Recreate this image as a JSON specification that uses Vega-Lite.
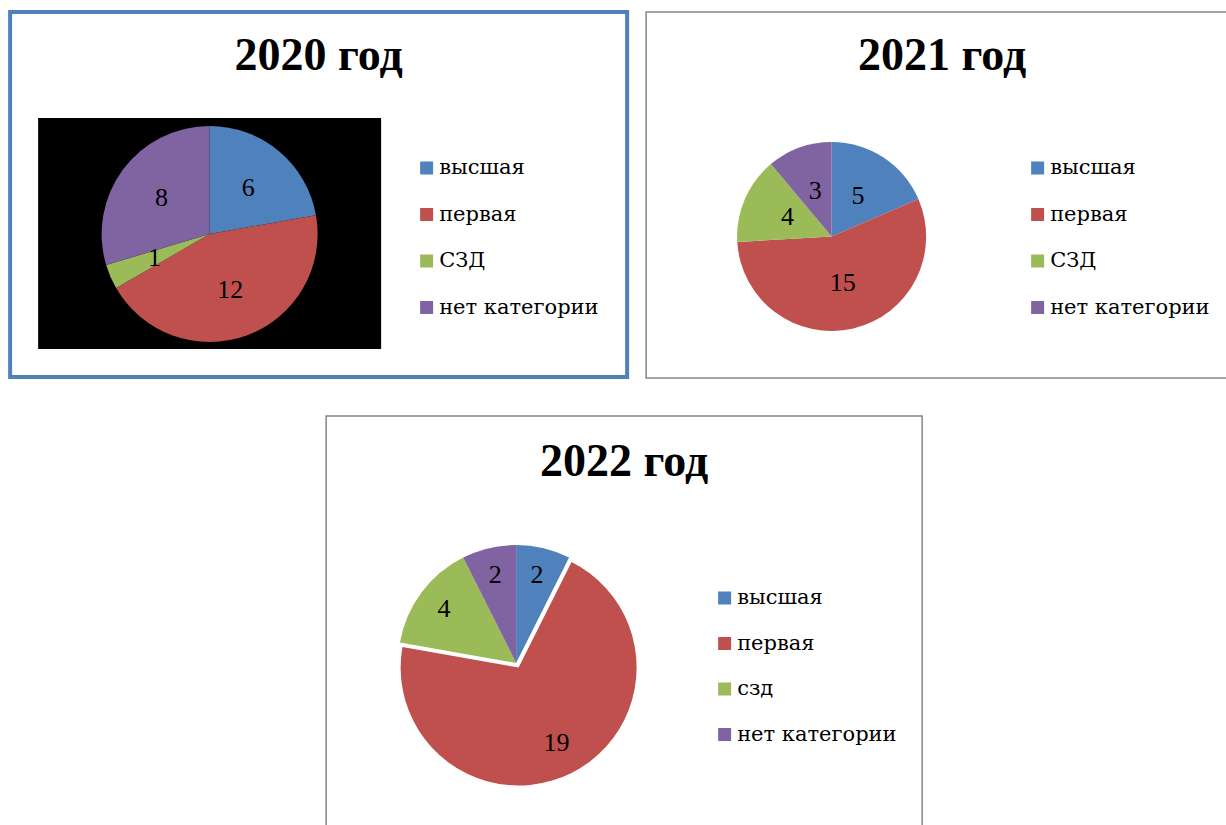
{
  "$schema": "https://vega.github.io/schema/vega-lite/v6.json",
  "padding": {"left": 8, "top": 10, "right": 0, "bottom": 0},
  "background": "white",
  "config": {
    "font": "Liberation Serif",
    "view": {"stroke": null},
    "title": {"font": "Liberation Serif", "fontSize": 46, "fontWeight": "bold", "color": "black", "anchor": "middle", "frame": "group", "baseline": "alphabetic", "offset": -68},
    "legend": {"orient": "none", "title": null, "symbolType": "square", "symbolSize": 169, "symbolStrokeWidth": 0, "labelFont": "DejaVu Serif", "labelFontSize": 21, "labelColor": "black", "rowPadding": 24.5, "labelOffset": 2, "padding": 0, "labelLimit": 400}
  },
  "datasets": {
    "y2020": [
      {"cat": "высшая", "v": 6, "i": 1},
      {"cat": "первая", "v": 12, "i": 2},
      {"cat": "СЗД", "v": 1, "i": 3},
      {"cat": "нет категории", "v": 8, "i": 4}
    ],
    "y2021": [
      {"cat": "высшая", "v": 5, "i": 1},
      {"cat": "первая", "v": 15, "i": 2},
      {"cat": "СЗД", "v": 4, "i": 3},
      {"cat": "нет категории", "v": 3, "i": 4}
    ],
    "y2022": [
      {"cat": "высшая", "v": 2, "i": 1},
      {"cat": "первая", "v": 19, "i": 2},
      {"cat": "сзд", "v": 4, "i": 3},
      {"cat": "нет категории", "v": 2, "i": 4}
    ]
  },
  "spacing": 36,
  "center": true,
  "resolve": {"scale": {"color": "independent", "theta": "independent"}, "legend": {"color": "independent"}},
  "vconcat": [
    {
      "spacing": 16,
      "resolve": {"scale": {"color": "independent", "theta": "independent"}, "legend": {"color": "independent"}},
      "hconcat": [
        {
          "width": 617, "height": 365,
          "view": {"stroke": "#4f81bd", "strokeWidth": 4},
          "title": {"text": "2020 год"},
          "layer": [
            {
              "data": {"values": [{}]},
              "mark": {"type": "rect", "fill": "black", "x": 28, "x2": 371, "y": 106, "y2": 337},
              "encoding": {}
            },
            {
              "data": {"name": "y2020"},
              "mark": {"type": "arc", "outerRadius": 108, "x": 199.5, "y": 222},
              "encoding": {
                "theta": {"field": "v", "type": "quantitative", "stack": true},
                "order": {"field": "i", "type": "quantitative"},
                "color": {"field": "cat", "type": "nominal", "sort": null,
                  "scale": {"domain": ["высшая", "первая", "СЗД", "нет категории"], "range": ["#4f81bd", "#c0504d", "#9bbb59", "#8064a2"]},
                  "legend": {"legendX": 406, "legendY": 145.5}}
              }
            },
            {
              "data": {"name": "y2020"},
              "mark": {"type": "text", "radius": 60, "x": 199.5, "y": 222, "fontSize": 26, "fill": "black", "font": "Liberation Serif"},
              "encoding": {
                "theta": {"field": "v", "type": "quantitative", "stack": true},
                "order": {"field": "i", "type": "quantitative"},
                "detail": {"field": "cat", "type": "nominal"},
                "text": {"field": "v", "type": "quantitative"}
              }
            }
          ]
        },
        {
          "width": 592, "height": 366,
          "view": {"stroke": "#868686", "strokeWidth": 1.5},
          "title": {"text": "2021 год"},
          "layer": [
            {
              "data": {"name": "y2021"},
              "mark": {"type": "arc", "outerRadius": 94.5, "x": 185.5, "y": 224.5},
              "encoding": {
                "theta": {"field": "v", "type": "quantitative", "stack": true},
                "order": {"field": "i", "type": "quantitative"},
                "color": {"field": "cat", "type": "nominal", "sort": null,
                  "scale": {"domain": ["высшая", "первая", "СЗД", "нет категории"], "range": ["#4f81bd", "#c0504d", "#9bbb59", "#8064a2"]},
                  "legend": {"legendX": 381, "legendY": 145.5}}
              }
            },
            {
              "data": {"name": "y2021"},
              "mark": {"type": "text", "radius": 48, "x": 185.5, "y": 224.5, "fontSize": 26, "fill": "black", "font": "Liberation Serif"},
              "encoding": {
                "theta": {"field": "v", "type": "quantitative", "stack": true},
                "order": {"field": "i", "type": "quantitative"},
                "detail": {"field": "cat", "type": "nominal"},
                "text": {"field": "v", "type": "quantitative"}
              }
            }
          ]
        }
      ]
    },
    {
      "width": 596, "height": 420,
      "view": {"stroke": "#868686", "strokeWidth": 1.5},
      "title": {"text": "2022 год", "offset": -70},
      "layer": [
        {
          "data": {"name": "y2022"},
          "transform": [
            {"stack": "v", "groupby": [], "sort": [{"field": "i", "order": "ascending"}], "as": ["v0", "v1"]},
            {"filter": "datum.cat !== 'первая'"}
          ],
          "mark": {"type": "arc", "outerRadius": 118, "x": 190, "y": 247},
          "encoding": {
            "theta": {"field": "v0", "type": "quantitative", "stack": null},
            "theta2": {"field": "v1"},
            "color": {"field": "cat", "type": "nominal", "sort": null,
              "scale": {"domain": ["высшая", "первая", "сзд", "нет категории"], "range": ["#4f81bd", "#c0504d", "#9bbb59", "#8064a2"]},
              "legend": {"legendX": 388, "legendY": 171.5, "rowPadding": 23.5}}
          }
        },
        {
          "data": {"name": "y2022"},
          "transform": [
            {"stack": "v", "groupby": [], "sort": [{"field": "i", "order": "ascending"}], "as": ["v0", "v1"]},
            {"filter": "datum.cat === 'первая'"}
          ],
          "mark": {"type": "arc", "outerRadius": 118, "x": 190, "y": 247, "xOffset": 2.5, "yOffset": 4.5},
          "encoding": {
            "theta": {"field": "v0", "type": "quantitative", "stack": null},
            "theta2": {"field": "v1"},
            "color": {"field": "cat", "type": "nominal", "sort": null}
          }
        },
        {
          "data": {"name": "y2022"},
          "mark": {"type": "text", "radius": 90, "x": 190, "y": 247, "fontSize": 26, "fill": "black", "font": "Liberation Serif"},
          "encoding": {
            "theta": {"field": "v", "type": "quantitative", "stack": true},
            "order": {"field": "i", "type": "quantitative"},
            "detail": {"field": "cat", "type": "nominal"},
            "text": {"field": "v", "type": "quantitative"}
          }
        }
      ]
    }
  ]
}
